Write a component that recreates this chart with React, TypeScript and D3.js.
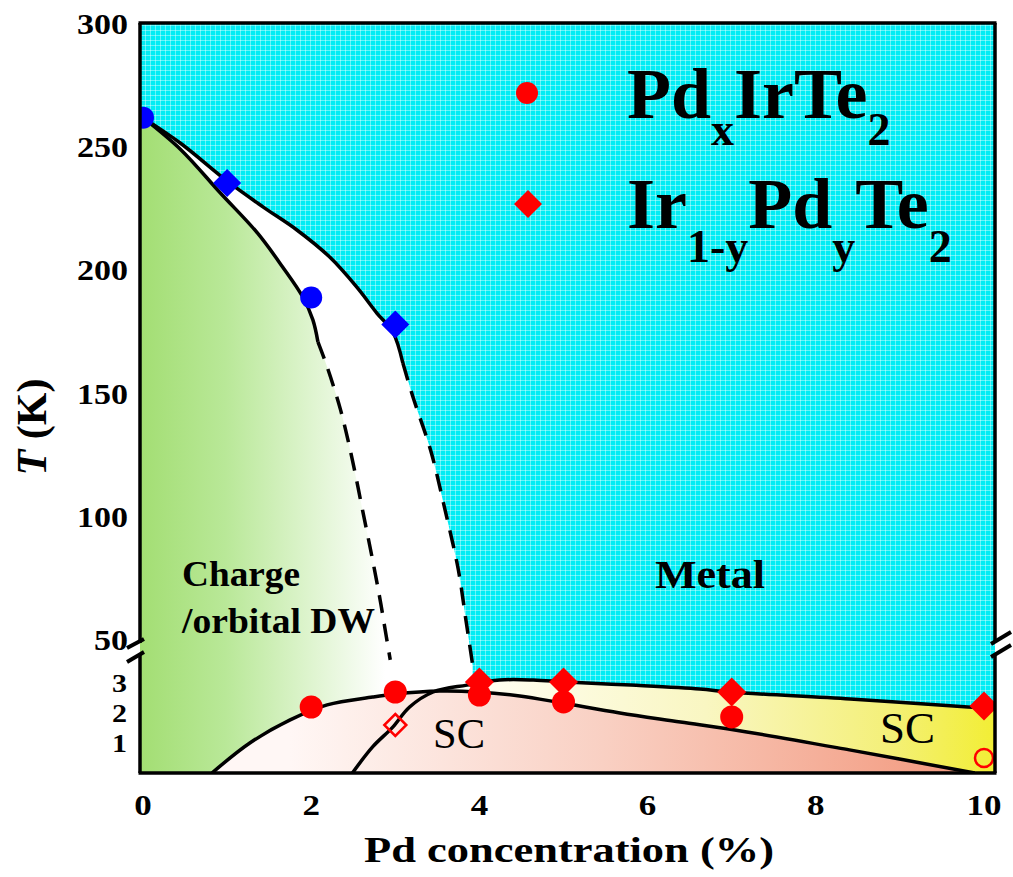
import React from 'react';
import * as d3 from 'd3';

// ---------- data ----------
const xTicks = [0, 2, 4, 6, 8, 10];
const yTicksUpper = [50, 100, 150, 200, 250, 300];
const yTicksLower = [1, 2, 3];

// CDW boundary, outer (solid then dashed)
const outerSolidX = [0, 0.45, 1.01, 1.43, 1.83, 2.22, 2.54, 2.78, 2.97, 3.09];
const outerSolidT = [262, 251.5, 236, 225.7, 216.4, 205.4, 193.3, 182.7, 175, 162.4];
const outerDashX = [3.09, 3.21, 3.42, 3.59, 3.75, 3.84, 3.92];
const outerDashT = [162.4, 148.6, 127, 103, 78.4, 58, 3.6];

// CDW boundary, inner (solid then dashed)
const innerSolidX = [0, 0.45, 0.92, 1.36, 1.66, 1.9, 2.02, 2.08];
const innerSolidT = [262, 249, 231.4, 215.2, 201.4, 189.2, 179.9, 171];
const innerDashX = [2.08, 2.19, 2.35, 2.49, 2.61, 2.73, 2.82, 2.89, 2.94];
const innerDashT = [171, 160.8, 143.3, 123, 102.8, 82.5, 66.2, 52, 3.77];

// SC dome of PdxIrTe2
const domeX = [0.82, 1.27, 1.75, 2.19, 2.73, 3.0, 3.53, 3.98, 4.48, 4.99, 5.67, 6.39, 7.18, 8.4, 9.89];
const domeT = [0, 1.0, 1.77, 2.27, 2.53, 2.63, 2.73, 2.7, 2.57, 2.33, 2.0, 1.7, 1.37, 0.77, 0];

// SC boundary of Ir1-yPdyTe2
const yBoundX = [2.49, 2.73, 2.97, 3.17, 3.45, 3.85, 4.24, 4.64, 5.04, 5.8, 6.62, 6.98, 8.41, 9.81, 10.13];
const yBoundT = [0, 0.87, 1.53, 2.2, 2.7, 2.93, 3.1, 3.1, 3.03, 2.93, 2.8, 2.7, 2.47, 2.2, 2.15];

// markers
const cdwCircleX = [0, 2];
const cdwCircleT = [262, 189];
const cdwDiamondX = [1, 3];
const cdwDiamondT = [235.5, 178];
const scCircleX = [2, 3, 4, 5, 7];
const scCircleT = [2.2, 2.7, 2.6, 2.37, 1.87];
const scOpenCircleX = [10];
const scOpenCircleT = [0.5];
const scDiamondX = [4, 5, 7, 10];
const scDiamondT = [3.03, 3.03, 2.7, 2.23];
const scOpenDiamondX = [3];
const scOpenDiamondT = [1.6];

const FONT = "'Liberation Serif', 'Times New Roman', Times, serif";

type P = [number, number];
const zip = (xs: number[], ts: number[]): P[] => xs.map((v, i) => [v, ts[i]] as P);

const diamond = (cx: number, cy: number, h: number) =>
  `M${cx},${cy - h}L${cx + h},${cy}L${cx},${cy + h}L${cx - h},${cy}Z`;

export default function App() {
  const L = 140, R = 995, TOP = 23, B = 773;
  const x = d3.scaleLinear().domain([0, 10]).range([143, 984]);
  const y = d3.scaleLinear().domain([0, 4, 50, 300]).range([773, 653, 640, 24]);
  const xMin = x.invert(L);

  const line = d3
    .line<P>()
    .x((d) => x(d[0]))
    .y((d) => y(d[1]))
    .curve(d3.curveCatmullRom.alpha(0.5));
  const pt = (a: number, t: number) => `${x(a)},${y(t)}`;

  const outerSolid = zip(outerSolidX, outerSolidT);
  const outerDash = zip(outerDashX, outerDashT);
  const innerSolid = zip(innerSolidX, innerSolidT);
  const innerDash = zip(innerDashX, innerDashT);
  const dome = zip(domeX, domeT);
  const yb = zip(yBoundX, yBoundT);

  const outerAll = [...outerSolid, ...outerDash.slice(1)];
  const innerAll = [...innerSolid, ...innerDash.slice(1)];
  const lastOuter = outerDashX[outerDashX.length - 1];
  const lastInner = innerDashX[innerDashX.length - 1];

  const whiteD =
    line(outerAll) + `L${pt(lastOuter, 0)}L${pt(xMin, 0)}L${pt(xMin, outerSolidT[0])}Z`;
  const greenD =
    line(innerAll) + `L${pt(lastInner, 0)}L${pt(xMin, 0)}L${pt(xMin, innerSolidT[0])}Z`;
  const yellowD = line(yb) + `L${pt(yBoundX[yBoundX.length - 1], 0)}Z`;
  const pinkD = line(dome) + 'Z';

  const lineStyle = { fill: 'none', stroke: '#000', strokeWidth: 3.5, strokeLinecap: 'butt' as const };

  return (
    <svg
      width={1013}
      height={877}
      style={{ position: 'absolute', left: 0, top: 0, display: 'block', background: '#fff' }}
      fontFamily={FONT}
    >
      <defs>
        <pattern id="grid" width={5} height={5} patternUnits="userSpaceOnUse">
          <rect width={5} height={5} fill="#02edf4" />
          <path d="M0,0.5H5M0.5,0V5" stroke="rgba(255,255,255,0.4)" strokeWidth={1} />
        </pattern>
        <linearGradient id="gGreen" gradientUnits="userSpaceOnUse" x1={140} y1={0} x2={385} y2={0}>
          <stop offset="0" stopColor="#a3de73" />
          <stop offset="0.35" stopColor="#b9e898" />
          <stop offset="1" stopColor="#ffffff" />
        </linearGradient>
        <linearGradient id="gPink" gradientUnits="userSpaceOnUse" x1={290} y1={0} x2={985} y2={0}>
          <stop offset="0" stopColor="#fff7f5" />
          <stop offset="0.45" stopColor="#f9d0c3" />
          <stop offset="1" stopColor="#f2967a" />
        </linearGradient>
        <linearGradient id="gYellow" gradientUnits="userSpaceOnUse" x1={460} y1={0} x2={993} y2={0}>
          <stop offset="0" stopColor="#fffff6" />
          <stop offset="0.46" stopColor="#f9f6c2" />
          <stop offset="0.8" stopColor="#f4f07a" />
          <stop offset="1" stopColor="#f2ee36" />
        </linearGradient>
        <clipPath id="plot">
          <rect x={L} y={TOP} width={R - L} height={B - TOP} />
        </clipPath>
      </defs>

      <g clipPath="url(#plot)">
        <rect x={L} y={TOP} width={R - L} height={B - TOP} fill="url(#grid)" />
        <path d={whiteD} fill="#ffffff" />
        <path d={greenD} fill="url(#gGreen)" />
        <path d={yellowD} fill="url(#gYellow)" />
        <path d={pinkD} fill="url(#gPink)" />

        {/* boundaries */}
        <path d={line(outerSolid) || ''} {...lineStyle} />
        <path d={line(outerDash) || ''} {...lineStyle} strokeDasharray="18 11" />
        <path d={line(innerSolid) || ''} {...lineStyle} />
        <path d={line(innerDash) || ''} {...lineStyle} strokeDasharray="18 11" />
        <path d={line(dome) || ''} {...lineStyle} />
        <path d={line(yb) || ''} {...lineStyle} />

        {/* markers */}
        {cdwCircleX.map((v, i) => (
          <circle key={'bc' + i} cx={x(v)} cy={y(cdwCircleT[i])} r={11} fill="#0000ff" />
        ))}
        {cdwDiamondX.map((v, i) => (
          <path key={'bd' + i} d={diamond(x(v), y(cdwDiamondT[i]), 14)} fill="#0000ff" />
        ))}
        {scCircleX.map((v, i) => (
          <circle key={'rc' + i} cx={x(v)} cy={y(scCircleT[i])} r={11.5} fill="#ff0000" />
        ))}
        {scDiamondX.map((v, i) => (
          <path key={'rd' + i} d={diamond(x(v), y(scDiamondT[i]), 14.5)} fill="#ff0000" />
        ))}
        {scOpenCircleX.map((v, i) => (
          <circle key={'oc' + i} cx={x(v)} cy={y(scOpenCircleT[i])} r={9} fill="none" stroke="#ff0000" strokeWidth={2.5} />
        ))}
        {scOpenDiamondX.map((v, i) => (
          <path key={'od' + i} d={diamond(x(v), y(scOpenDiamondT[i]), 11)} fill="none" stroke="#ff0000" strokeWidth={2.5} />
        ))}
      </g>

      {/* frame */}
      <g stroke="#000" strokeWidth={3.5} fill="none">
        <line x1={L - 1.5} x2={R + 1.5} y1={TOP} y2={TOP} />
        <line x1={L - 1.5} x2={R + 1.5} y1={B} y2={B} />
        <line x1={L} x2={L} y1={TOP} y2={643} />
        <line x1={L} x2={L} y1={655} y2={B} />
        <line x1={R} x2={R} y1={TOP} y2={641} />
        <line x1={R} x2={R} y1={654} y2={B} />
        {/* break marks */}
        <line x1={127} y1={648} x2={144} y2={639} strokeWidth={4} />
        <line x1={127} y1={662} x2={144} y2={652} strokeWidth={4} />
        <line x1={991} y1={644} x2={1011} y2={632} strokeWidth={4} />
        <line x1={991} y1={657} x2={1011} y2={645} strokeWidth={4} />
      </g>

      {/* tick labels */}
      <g fontWeight="bold" fill="#000">
        {yTicksUpper.map((t) => (
          <text key={'yu' + t} x={128} y={y(t) + 10} fontSize={29} textAnchor="end"
            textLength={17 * String(t).length} lengthAdjust="spacingAndGlyphs">
            {t}
          </text>
        ))}
        {yTicksLower.map((t) => (
          <text key={'yl' + t} x={127} y={y(t) + 9} fontSize={26} textAnchor="end"
            textLength={15} lengthAdjust="spacingAndGlyphs">
            {t}
          </text>
        ))}
        {xTicks.map((t) => (
          <text key={'x' + t} x={x(t)} y={815} fontSize={29} textAnchor="middle"
            textLength={17.5 * String(t).length} lengthAdjust="spacingAndGlyphs">
            {t}
          </text>
        ))}
      </g>

      {/* axis titles */}
      <text x={569} y={862} fontSize={36} fontWeight="bold" textAnchor="middle"
        textLength={410} lengthAdjust="spacingAndGlyphs">
        Pd concentration (%)
      </text>
      <text transform="translate(46,427) rotate(-90)" fontSize={42} fontWeight="bold" textAnchor="middle">
        <tspan fontStyle="italic">T</tspan> (K)
      </text>

      {/* region labels */}
      <g fontWeight="bold">
        <text x={182} y={586} fontSize={36} textLength={118} lengthAdjust="spacingAndGlyphs">Charge</text>
        <text x={182} y={633} fontSize={36} textLength={193} lengthAdjust="spacingAndGlyphs">/orbital DW</text>
        <text x={655} y={588} fontSize={40} textLength={110} lengthAdjust="spacingAndGlyphs">Metal</text>
      </g>
      <text x={433} y={748} fontSize={42} textLength={52} lengthAdjust="spacingAndGlyphs">SC</text>
      <text x={880} y={743} fontSize={44} textLength={55} lengthAdjust="spacingAndGlyphs">SC</text>

      {/* legend */}
      <circle cx={527} cy={93} r={11} fill="#ff0000" />
      <path d={diamond(528, 204, 14)} fill="#ff0000" />
      <text x={627} y={118} fontSize={72} fontWeight="bold">
        <tspan>Pd</tspan>
        <tspan fontSize={46} dy={27}>x</tspan>
        <tspan dy={-27}>IrTe</tspan>
        <tspan fontSize={46} dy={27}>2</tspan>
      </text>
      <text x={627} y={228} fontSize={72} fontWeight="bold">
        <tspan>Ir</tspan>
        <tspan fontSize={46} dy={34}>1-y</tspan>
        <tspan dy={-34}>Pd</tspan>
        <tspan fontSize={46} dy={34}>y</tspan>
        <tspan dy={-34}>Te</tspan>
        <tspan fontSize={46} dy={34}>2</tspan>
      </text>
    </svg>
  );
}
